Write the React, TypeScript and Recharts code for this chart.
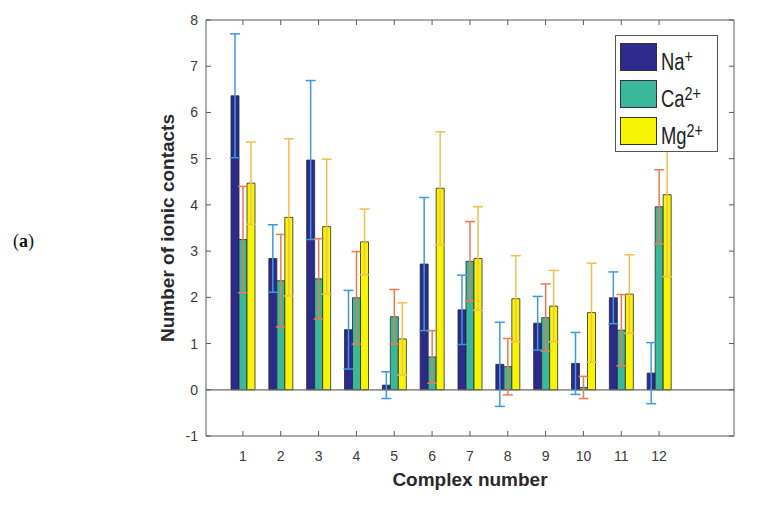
import React from 'react';
import {
  BarChart,
  Bar,
  XAxis,
  YAxis,
  ErrorBar,
  ReferenceLine,
  Legend,
} from 'recharts';

const complexes = ['1', '2', '3', '4', '5', '6', '7', '8', '9', '10', '11', '12'];
const naValues = [6.36, 2.84, 4.97, 1.3, 0.1, 2.72, 1.73, 0.55, 1.44, 0.57, 1.99, 0.36];
const naErrors = [1.34, 0.73, 1.72, 0.85, 0.29, 1.44, 0.75, 0.91, 0.58, 0.67, 0.56, 0.66];
const caValues = [3.25, 2.36, 2.4, 1.99, 1.58, 0.71, 2.78, 0.5, 1.56, 0.05, 1.29, 3.96];
const caErrors = [1.15, 1.0, 0.87, 1.0, 0.59, 0.57, 0.86, 0.61, 0.73, 0.24, 0.77, 0.8];
const mgValues = [4.47, 3.73, 3.53, 3.2, 1.1, 4.36, 2.84, 1.97, 1.81, 1.67, 2.07, 4.22];
const mgErrors = [0.89, 1.7, 1.46, 0.71, 0.78, 1.22, 1.12, 0.93, 0.77, 1.07, 0.85, 1.77];
const yTicks = [-1, 0, 1, 2, 3, 4, 5, 6, 7, 8];
const seriesKeys = ['na', 'ca', 'mg'];
const ionNames = ['Na', 'Ca', 'Mg'];
const ionCharges = ['+', '2+', '2+'];

const data = complexes.map((c, i) => ({
  complex: c,
  na: naValues[i],
  naErr: naErrors[i],
  ca: caValues[i],
  caErr: caErrors[i],
  mg: mgValues[i],
  mgErr: mgErrors[i],
}));

const FONT = '"Liberation Sans", Arial, Helvetica, sans-serif';
const AXIS_COLOR = '#5a5a5a';
const TICK_FILL = '#3a3a3a';
const TICK_LEN = 5;
const LEFT_MARGIN = 8;
const BOTTOM_MARGIN = 20;

const LeftTick = (p: any) => {
  const axisX = p.x + LEFT_MARGIN;
  return (
    <g>
      <line x1={axisX} y1={p.y} x2={axisX + TICK_LEN} y2={p.y} stroke={AXIS_COLOR} strokeWidth={1} />
      <text x={p.x} y={p.y + 5} textAnchor="end" fontSize={14} fill={TICK_FILL} fontFamily={FONT}>
        {p.payload.value}
      </text>
    </g>
  );
};

const RightTick = (p: any) => (
  <line x1={p.x} y1={p.y} x2={p.x - TICK_LEN} y2={p.y} stroke={AXIS_COLOR} strokeWidth={1} />
);

const BottomTick = (p: any) => {
  const axisY = p.y - BOTTOM_MARGIN;
  return (
    <g>
      <line x1={p.x} y1={axisY} x2={p.x} y2={axisY - TICK_LEN} stroke={AXIS_COLOR} strokeWidth={1} />
      <text x={p.x} y={p.y + 5} textAnchor="middle" fontSize={14} fill={TICK_FILL} fontFamily={FONT}>
        {p.payload.value}
      </text>
    </g>
  );
};

const TopTick = (p: any) => (
  <line x1={p.x} y1={p.y} x2={p.x} y2={p.y + TICK_LEN} stroke={AXIS_COLOR} strokeWidth={1} />
);

const LegendBox = (props: any) => {
  const payload = [...(props.payload || [])].sort(
    (a: any, b: any) => seriesKeys.indexOf(a.dataKey) - seriesKeys.indexOf(b.dataKey)
  );
  return (
    <div
      style={{
        border: '1px solid #555',
        background: '#fff',
        width: 103,
        height: 117,
        boxSizing: 'border-box',
        padding: '7px 0 0 4px',
        fontFamily: FONT,
        color: '#222',
      }}
    >
      {payload.map((entry: any) => {
        const idx = seriesKeys.indexOf(entry.dataKey);
        return (
          <div
            key={entry.dataKey}
            style={{ display: 'flex', alignItems: 'flex-start', height: 28, marginBottom: 9 }}
          >
            <div
              style={{
                width: 37,
                height: 28,
                boxSizing: 'border-box',
                border: '1px solid #333',
                background: entry.color,
                flex: 'none',
              }}
            />
            <div
              style={{
                marginLeft: 4,
                fontSize: 23,
                lineHeight: '28px',
                whiteSpace: 'nowrap',
                transform: 'translateY(5px) scaleX(0.8)',
                transformOrigin: 'left top',
              }}
            >
              {ionNames[idx]}
              <span style={{ fontSize: 18, position: 'relative', top: -7 }}>{ionCharges[idx]}</span>
            </div>
          </div>
        );
      })}
    </div>
  );
};

export default function App() {
  return (
    <div style={{ position: 'absolute', left: 0, top: 0, width: 761, height: 510, background: '#fff' }}>
      <div
        style={{
          position: 'absolute',
          left: 13,
          top: 232,
          fontFamily: '"Liberation Serif", "Times New Roman", serif',
          fontSize: 18,
          lineHeight: '18px',
          color: '#111',
        }}
      >
        (<b>a</b>)
      </div>
      <BarChart
        width={761}
        height={510}
        data={data}
        margin={{ top: 19, right: 26, bottom: 13, left: 128 }}
        barSize={8}
        barGap={0}
        style={{ fontFamily: FONT }}
      >
        <XAxis
          xAxisId="bottom"
          dataKey="complex"
          padding={{ left: 18, right: 56 }}
          height={61}
          stroke={AXIS_COLOR}
          tickLine={false}
          tickSize={0}
          tickMargin={BOTTOM_MARGIN}
          tick={<BottomTick />}
          interval={0}
          label={{
            value: 'Complex number',
            position: 'center',
            dy: 13,
            style: { fontSize: 19, fontWeight: 'bold', fill: '#2a2a2a', fontFamily: FONT },
          }}
        />
        <XAxis
          xAxisId="top"
          orientation="top"
          dataKey="complex"
          padding={{ left: 18, right: 56 }}
          height={1}
          stroke={AXIS_COLOR}
          tickLine={false}
          tickSize={0}
          tickMargin={0}
          tick={<TopTick />}
          interval={0}
        />
        <YAxis
          yAxisId="left"
          domain={[-1, 8]}
          ticks={yTicks}
          interval={0}
          width={78}
          stroke={AXIS_COLOR}
          tickLine={false}
          tickSize={0}
          tickMargin={LEFT_MARGIN}
          tick={<LeftTick />}
          allowDataOverflow
          label={{
            value: 'Number of ionic contacts',
            position: 'center',
            angle: -90,
            style: { fontSize: 19, fontWeight: 'bold', fill: '#2a2a2a', fontFamily: FONT },
          }}
        />
        <YAxis
          yAxisId="right"
          orientation="right"
          domain={[-1, 8]}
          ticks={yTicks}
          interval={0}
          width={1}
          stroke={AXIS_COLOR}
          tickLine={false}
          tickSize={0}
          tickMargin={0}
          tick={<RightTick />}
          allowDataOverflow
        />
        <ReferenceLine y={0} yAxisId="left" xAxisId="bottom" stroke="#6a6a6a" strokeWidth={1.2} />
        <Bar
          dataKey="na"
          name="Na+"
          xAxisId="bottom"
          yAxisId="left"
          fill="#2c2a8d"
          stroke="#2a2a2a"
          strokeWidth={0.8}
          isAnimationActive={false}
        >
          <ErrorBar dataKey="naErr" width={5} stroke="#3c9ae0" strokeWidth={1.5} direction="y" isAnimationActive={false} />
        </Bar>
        <Bar
          dataKey="ca"
          name="Ca2+"
          xAxisId="bottom"
          yAxisId="left"
          fill="#3bb79c"
          stroke="#2a2a2a"
          strokeWidth={0.8}
          isAnimationActive={false}
        >
          <ErrorBar dataKey="caErr" width={5} stroke="#ea7a52" strokeWidth={1.5} direction="y" isAnimationActive={false} />
        </Bar>
        <Bar
          dataKey="mg"
          name="Mg2+"
          xAxisId="bottom"
          yAxisId="left"
          fill="#f8f504"
          stroke="#2a2a2a"
          strokeWidth={0.8}
          isAnimationActive={false}
        >
          <ErrorBar dataKey="mgErr" width={5} stroke="#f2c050" strokeWidth={1.5} direction="y" isAnimationActive={false} />
        </Bar>
        <Legend
          layout="vertical"
          align="center"
          verticalAlign="middle"
          content={<LegendBox />}
          wrapperStyle={{ left: 615, top: 35, width: 'auto', height: 'auto' }}
        />
      </BarChart>
    </div>
  );
}
